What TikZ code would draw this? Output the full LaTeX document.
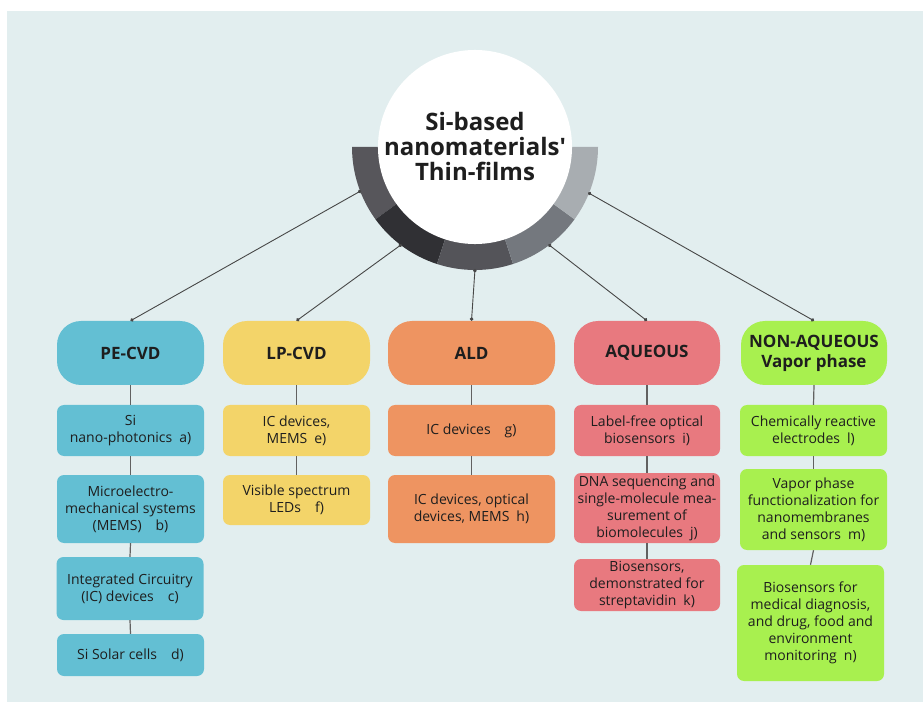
\documentclass[tikz,border=0pt]{standalone}
\usepackage{fontspec}
\setmainfont{Open Sans}
\newfontfamily\hubfont{Open Sans}
\usetikzlibrary{arrows.meta}
\definecolor{panel}{HTML}{E2EEEF}
\definecolor{pecvd}{HTML}{63BFD3}
\definecolor{lpcvd}{HTML}{F3D469}
\definecolor{ald}{HTML}{EE9461}
\definecolor{aq}{HTML}{E8797F}
\definecolor{naq}{HTML}{A8F04F}
\definecolor{ringa}{HTML}{57565B}
\definecolor{ringb}{HTML}{303034}
\definecolor{ringc}{HTML}{545459}
\definecolor{ringd}{HTML}{74787E}
\definecolor{ringe}{HTML}{A8ADB1}
\definecolor{ink}{HTML}{1E1E1E}

\begin{document}
\begin{tikzpicture}[x=1pt,y=1pt,
  hdr/.style={rounded corners=24pt,font=\fontsize{17}{20}\selectfont\bfseries,align=center,minimum height=64pt,inner sep=0pt,text=ink},
  leaf/.style={rounded corners=7pt,font=\fontsize{14}{17}\selectfont,align=center,inner sep=0pt,text=ink},
  link/.style={draw=black!72,line width=0.9pt,{Circle[length=3.5pt]}-{Circle[length=3.5pt]}},
  stem/.style={draw=black!62,line width=1.2pt}]
\useasboundingbox (0,0) rectangle (923,702);
\fill[panel] (7,0) rectangle (923,691);

% ring under the hub
\begin{scope}[shift={(475,555)}]
\foreach \a/\c in {180/ringa,216/ringb,252/ringc,288/ringd,324/ringe}
  \fill[\c] (\a:95) arc[start angle=\a,delta angle=36,radius=95] -- ({\a+36}:123)
    arc[start angle={\a+36},delta angle=-36,radius=123] -- cycle;
\coordinate (r1) at (201:122);
\coordinate (r2) at (233:122);
\coordinate (r3) at (270:122);
\coordinate (r4) at (307:122);
\coordinate (r5) at (338:122);
\end{scope}
\node[circle,fill=white,minimum size=192pt,inner sep=0pt,align=center,text=ink,
  font=\hubfont\fontsize{24}{25}\selectfont\bfseries] (hub) at (475,555) {Si-based\\nanomaterials'\\Thin-films};

% headers
\node[hdr,fill=pecvd,minimum width=147pt] (pe) at (130.5,349) {PE-CVD};
\node[hdr,fill=lpcvd,minimum width=147pt] (lp) at (296.5,349) {LP-CVD};
\node[hdr,fill=ald,minimum width=167pt] (ald) at (471.5,349) {ALD};
\node[hdr,fill=aq,minimum width=146pt] (aq) at (647,349) {AQUEOUS};
\node[hdr,fill=naq,minimum width=146pt] (naq) at (814,349) {NON-AQUEOUS\\Vapor phase};

% PE-CVD
\node[leaf,fill=pecvd,minimum width=147pt,minimum height=51pt] (a) at (130.5,271.5) {Si\\nano-photonics\enspace a)};
\node[leaf,fill=pecvd,minimum width=147pt,minimum height=68pt] (b) at (130.5,193) {Microelectro-\\mechanical systems\\(MEMS)\quad b)};
\node[leaf,fill=pecvd,minimum width=147pt,minimum height=63pt] (c) at (130,113.5) {Integrated Circuitry\\(IC) devices\quad c)};
\node[leaf,fill=pecvd,minimum width=147pt,minimum height=42pt] (d) at (130.5,47) {Si Solar cells\quad d)};
% LP-CVD
\node[leaf,fill=lpcvd,minimum width=147pt,minimum height=51pt] (e) at (296.5,271.5) {IC devices,\\MEMS\enspace e)};
\node[leaf,fill=lpcvd,minimum width=147pt,minimum height=50pt] (f) at (296.5,202) {Visible spectrum\\LEDs\quad f)};
% ALD
\node[leaf,fill=ald,minimum width=167pt,minimum height=51pt] (g) at (471.5,271.5) {IC devices\quad g)};
\node[leaf,fill=ald,minimum width=167pt,minimum height=68pt] (h) at (471.5,193) {IC devices, optical\\devices, MEMS\enspace h)};
% AQUEOUS
\node[leaf,fill=aq,minimum width=146pt,minimum height=51pt] (i) at (647,271.5) {Label-free optical\\biosensors\enspace i)};
\node[leaf,fill=aq,minimum width=146pt,minimum height=70pt] (j) at (647,194) {DNA sequencing and\\single-molecule mea-\\surement of\\biomolecules\enspace j)};
\node[leaf,fill=aq,minimum width=146pt,minimum height=52pt] (k) at (647,117) {Biosensors,\\demonstrated for\\streptavidin\enspace k)};
% NON-AQUEOUS
\node[leaf,fill=naq,minimum width=147pt,minimum height=51pt] (l) at (813.5,271.5) {Chemically reactive\\electrodes\enspace l)};
\node[leaf,fill=naq,minimum width=147pt,minimum height=81pt] (m) at (813.5,192.5) {Vapor phase\\functionalization for\\nanomembranes\\and sensors\enspace m)};
\node[leaf,fill=naq,minimum width=147pt,minimum height=116pt] (n) at (810.5,79) {Biosensors for\\medical diagnosis,\\and drug, food and\\environment\\monitoring\enspace n)};

\foreach \u/\v in {pe/a,a/b,b/c,c/d,lp/e,e/f,ald/g,g/h,aq/i,i/j,j/k,naq/l,l/m,m/n}
  \draw[stem] (\u.south) -- (\v.north);
\foreach \r/\h in {r1/pe,r2/lp,r3/ald,r4/aq,r5/naq}
  \draw[link] (\r) -- (\h.north);
\end{tikzpicture}
\end{document}
